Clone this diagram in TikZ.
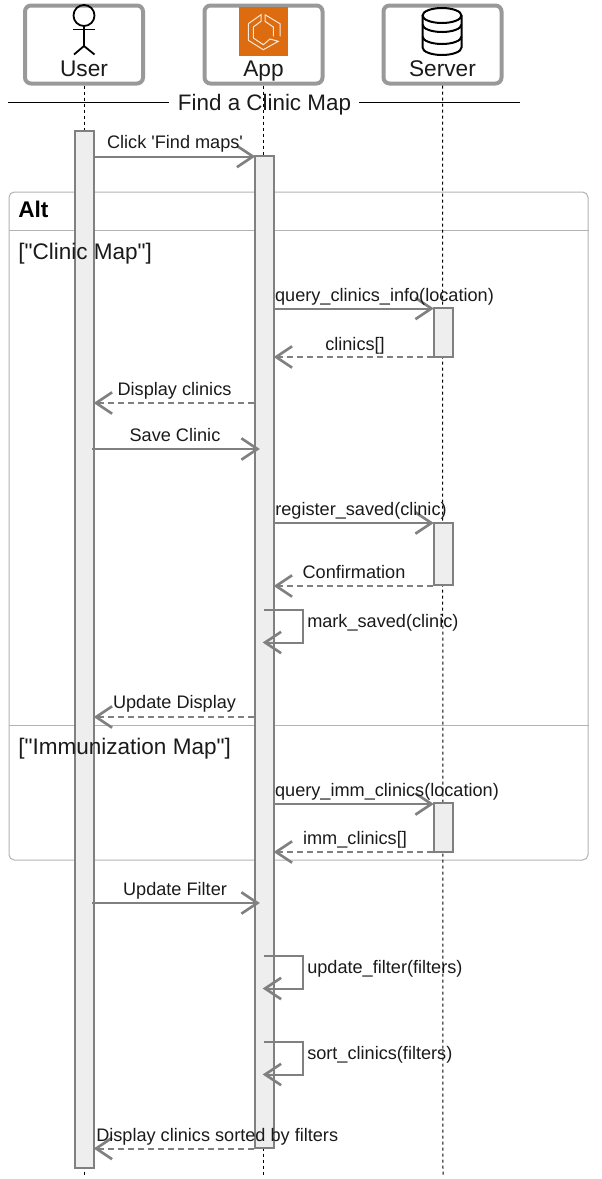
\documentclass[tikz,border=0pt]{standalone}
\usepackage{fontspec}
\setmainfont{Liberation Sans}[Ligatures=TeXOff]
\usetikzlibrary{arrows.meta}
\definecolor{partgray}{HTML}{999999}
\definecolor{linegray}{HTML}{808080}
\definecolor{actfill}{HTML}{EEEEEE}
\definecolor{framegray}{HTML}{B3B3B3}
\definecolor{awsorange}{HTML}{DD6B10}
\definecolor{textblack}{HTML}{1A1A1A}

\begin{document}
\begin{tikzpicture}[x=0.75pt,y=-0.75pt,line join=miter]
    \tikzstyle{participant}=[draw=partgray,line width=3pt,rounded corners=4.5pt,fill=white,minimum width=88.5pt,minimum height=58.5pt,inner sep=0pt]
    \tikzstyle{partname}=[font=\fontsize{17}{19}\selectfont,text=textblack,inner sep=0pt,anchor=base]
    \tikzstyle{lifeline}=[draw=black,line width=0.75pt,dash pattern=on 2.25pt off 2.25pt]
    \tikzstyle{act}=[draw=linegray,line width=1.5pt,fill=actfill,minimum width=14.25pt,inner sep=0pt]
    \tikzstyle{msg}=[draw=linegray,line width=1.5pt,shorten >=-1pt,-{Straight Barb[length=12pt,width=16pt,line width=2pt]}]
    \tikzstyle{reply}=[msg,dash pattern=on 4.5pt off 3pt]
    \tikzstyle{lab}=[font=\fontsize{13.6}{15}\selectfont,text=textblack,inner sep=0pt,anchor=base,yshift=-0.6pt]
    \tikzstyle{guard}=[font=\fontsize{16.9}{19}\selectfont,text=textblack,inner sep=0pt,anchor=base west]
    \tikzstyle{icon}=[draw=black,line width=1.35pt]
    \tikzstyle{appline}=[draw=white!85!awsorange,line width=0.75pt]
    \useasboundingbox (0,0) rectangle (601,1179);

    % Participants
    \node[participant] (P-U) at (84,44.5) {};
    \node[participant] (P-A) at (263.5,44.5) {};
    \node[participant] (P-S) at (442.5,44.5) {};
    \node[partname] (N-U) at (84,76) {User};
    \node[partname] (N-A) at (263.5,76) {App};
    \node[partname] (N-S) at (442.5,76) {Server};

    % Ends of the lifelines
    \coordinate (E-U) at (84,1177);
    \coordinate (E-A) at (263.5,1177);
    \coordinate (E-S) at (443,1177);

    % Alt frame
    \node[draw=framegray,line width=0.75pt,rounded corners=4pt,minimum width=434.25pt,minimum height=501pt,inner sep=0pt] (F) at (298.5,526) {};
    \coordinate (F-1) at (0,230);
    \coordinate (F-2) at (0,725.5);
    \draw[framegray,line width=0.75pt] (F.west |- F-1) -- (F.east |- F-1);
    \draw[framegray,line width=0.75pt] (F.west |- F-2) -- (F.east |- F-2);

    % Lifelines
    \draw[lifeline] (P-U.south) -- (E-U);
    \draw[lifeline] (P-A.south) -- (E-A);
    \draw[lifeline] (P-S.south) -- (E-S);

    % Activations
    \node[act,minimum height=777.75pt] (A-U) at (84.5,649.5) {};
    \node[act,minimum height=744pt] (A-A) at (264.5,652) {};
    \node[act,minimum height=36.75pt] (A-S1) at (443,332.5) {};
    \node[act,minimum height=46.5pt] (A-S2) at (443,554) {};
    \node[act,minimum height=36.75pt] (A-S3) at (443,827.5) {};

    % Title
    \node[font=\fontsize{16.8}{19}\selectfont,text=textblack,inner sep=0pt,anchor=base] (T) at (264.5,110) {Find a Clinic Map};
    \coordinate (T-L) at (8,102);
    \coordinate (T-R) at (519.5,102);
    \draw[black,line width=0.75pt] (T-L) -- ([xshift=-6.75pt]T.west |- T-L);
    \draw[black,line width=0.75pt] (T-R) -- ([xshift=5.75pt]T.east |- T-R);

    % Frame texts
    \node[font=\bfseries\fontsize{17}{19}\selectfont,inner sep=0pt,anchor=base west] (F-T) at (18,217.5) {Alt};
    \node[guard] (G-1) at (18,259) {["Clinic Map"]};
    \node[guard] (G-2) at (18,754.5) {["Immunization Map"]};

    % Icon of the user
    \node[draw=black,line width=1.35pt,circle,minimum size=15.75pt,inner sep=0pt] (I-H) at (84,15.5) {};
    \coordinate (I-A1) at (73,29.5);
    \coordinate (I-A2) at (95,29.5);
    \coordinate (I-W) at (84,46);
    \coordinate (I-L1) at (74,54.5);
    \coordinate (I-L2) at (94.5,54.5);
    \draw[icon] (I-H.south) -- (I-W);
    \draw[icon] (I-A1) -- (I-A2);
    \draw[icon] (I-L1) -- (I-W) -- (I-L2);

    % Icon of the app
    \node[fill=awsorange,minimum size=36.75pt,inner sep=0pt] (I-App) at (263.5,31.5) {};
    \draw[appline] (261,14.7) -- (248.3,23.7) -- (248.3,40.3) -- (263.3,49.7) -- (278.3,41.3) -- (270,39) -- (263.3,44.7) -- (253.3,38) -- (253.3,27) -- (261,21.3) -- cycle;
    \draw[appline] (265,14.7) -- (280,23.7) -- (280,36.3);
    \draw[appline] (265,14.7) -- (265,21.3) -- (273.3,27) -- (273.3,36.3);

    % Icon of the server
    \draw[icon,line width=1.5pt] (422.5,15.5) -- (422.5,47.5) arc[start angle=180,end angle=0,x radius=19.5,y radius=7.5] -- (461.5,15.5);
    \draw[icon,line width=1.5pt] (442,15.5) ellipse[x radius=19.5,y radius=7.5];
    \draw[icon,line width=1.5pt] (422.5,24.5) arc[start angle=180,end angle=0,x radius=19.5,y radius=7.5];
    \draw[icon,line width=1.5pt] (422.5,36.5) arc[start angle=180,end angle=0,x radius=19.5,y radius=7.5];

    % Rows of the messages
    \coordinate (M-1) at (0,156.5);
    \coordinate (M-2) at (0,308.5);
    \coordinate (M-3) at (0,357);
    \coordinate (M-4) at (0,403);
    \coordinate (M-5) at (0,449);
    \coordinate (M-6) at (0,523);
    \coordinate (M-7) at (0,586);
    \coordinate (M-8) at (0,717);
    \coordinate (M-9) at (0,804);
    \coordinate (M-10) at (0,852);
    \coordinate (M-11) at (0,903);
    \coordinate (M-12) at (0,1148.5);
    \coordinate (S-U) at (92,0);
    \coordinate (S-A) at (258.5,0);

    % Messages
    \draw[msg] (A-U.east |- M-1) -- (A-A.west |- M-1);
    \draw[msg] (A-A.east |- M-2) -- (A-S1.west |- M-2);
    \draw[reply] (A-S1.west |- M-3) -- (A-A.east |- M-3);
    \draw[reply] (A-A.west |- M-4) -- (A-U.east |- M-4);
    \draw[msg] (S-U |- M-5) -- (S-A |- M-5);
    \draw[msg] (A-A.east |- M-6) -- (A-S2.west |- M-6);
    \draw[reply] (A-S2.west |- M-7) -- (A-A.east |- M-7);
    \draw[reply] (A-A.west |- M-8) -- (A-U.east |- M-8);
    \draw[msg] (A-A.east |- M-9) -- (A-S3.west |- M-9);
    \draw[reply] (A-S3.west |- M-10) -- (A-A.east |- M-10);
    \draw[msg] (S-U |- M-11) -- (S-A |- M-11);
    \draw[reply] (A-A.west |- M-12) -- (A-U.east |- M-12);

    % Self messages
    \coordinate (C-1a) at (264,609.5);
    \coordinate (C-1b) at (264,642.5);
    \coordinate (C-2a) at (264,955.5);
    \coordinate (C-2b) at (264,988.5);
    \coordinate (C-3a) at (264,1042);
    \coordinate (C-3b) at (264,1074.5);
    \draw[msg] (C-1a) -- ++(39,0) |- (C-1b);
    \draw[msg] (C-2a) -- ++(39,0) |- (C-2b);
    \draw[msg] (C-3a) -- ++(39,0) |- (C-3b);

    % Labels of the messages
    \node[lab] (L-1) at (175,147.7) {Click 'Find maps'};
    \node[lab] (L-2) at (384.5,300.7) {query\_clinics\_info(location)};
    \node[lab] (L-3) at (355,349.7) {clinics[]};
    \node[lab] (L-4) at (174.5,394.7) {Display clinics};
    \node[lab] (L-5) at (175,440.7) {Save Clinic};
    \node[lab] (L-6) at (361,514.7) {register\_saved(clinic)};
    \node[lab] (L-7) at (354,577.7) {Confirmation};
    \node[lab,anchor=base west] (L-8) at (307,626.7) {mark\_saved(clinic)};
    \node[lab] (L-9) at (174.5,707.7) {Update Display};
    \node[lab] (L-10) at (387,795.7) {query\_imm\_clinics(location)};
    \node[lab] (L-11) at (355,843.7) {imm\_clinics[]};
    \node[lab] (L-12) at (175,894.7) {Update Filter};
    \node[lab,anchor=base west] (L-13) at (307,972.7) {update\_filter(filters)};
    \node[lab,anchor=base west] (L-14) at (307,1058.7) {sort\_clinics(filters)};
    \node[lab,anchor=base west] (L-15) at (96,1140.7) {Display clinics sorted by filters};
\end{tikzpicture}
\end{document}
